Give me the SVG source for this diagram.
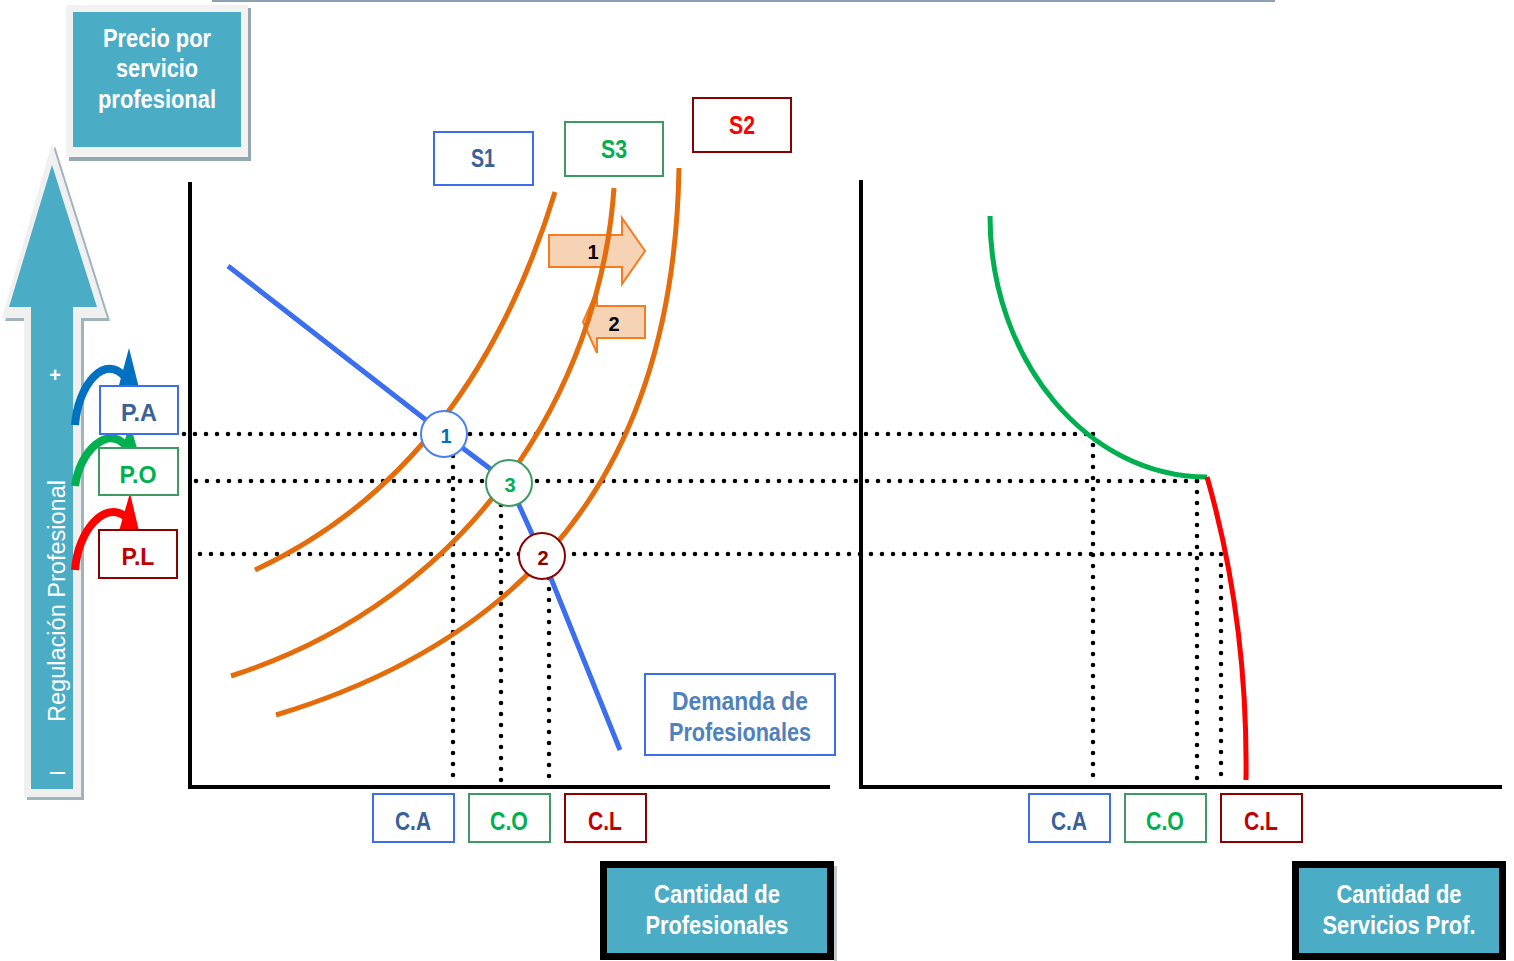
<svg xmlns="http://www.w3.org/2000/svg" width="1514" height="961" viewBox="0 0 1514 961">
<style>
.t{font-family:"Liberation Sans",Arial,sans-serif;font-weight:bold;text-anchor:middle}
.w{fill:#ffffff}
.bl{fill:#3a6199}
.gr{fill:#00b050}
.rd{fill:#c00000}
.bx{fill:#ffffff;stroke-width:2}
.sb{stroke:#3c6df0}
.sg{stroke:#3d9a62}
.sr{stroke:#8b0000}
.sup{fill:none;stroke:#e46c0a;stroke-width:5}
.dot{fill:none;stroke:#000;stroke-width:4.6;stroke-linecap:round;stroke-dasharray:0 11}
.ax{fill:none;stroke:#000;stroke-width:4}
.blk{fill:#4bacc6;stroke:#000;stroke-width:7}
.sh{fill:#f7d3b5;stroke:#f57c1f;stroke-width:2}
</style>

<line x1="212" y1="1" x2="1275" y2="1" stroke="#8fa0b5" stroke-width="2"/>

<g id="title">
<rect x="69" y="8" width="182" height="153" fill="#94a8b0"/>
<rect x="66" y="5" width="182" height="152" fill="#f2f2f2"/>
<rect x="73" y="12" width="168" height="135" fill="#4bacc6"/>
<text class="t w" x="157" y="47" font-size="26" textLength="108" lengthAdjust="spacingAndGlyphs">Precio por</text>
<text class="t w" x="157" y="77" font-size="26" textLength="82" lengthAdjust="spacingAndGlyphs">servicio</text>
<text class="t w" x="157" y="108" font-size="26" textLength="118" lengthAdjust="spacingAndGlyphs">profesional</text>
</g>

<g id="regulation-arrow">
<polygon points="55,146 110,321 84,321 84,800 27,800 27,321 5,321" fill="#a0b4bc"/>
<polygon points="52,143 107,318 81,318 81,797 24,797 24,318 2,318" fill="#f0f0f0"/>
<polygon points="52,165 97,307 73,307 73,789 31,789 31,307 9,307" fill="#4bacc6"/>
<text class="w" font-family="Liberation Sans,Arial,sans-serif" font-size="23" text-anchor="middle" transform="translate(65,601) rotate(-90)" textLength="242" lengthAdjust="spacingAndGlyphs">Regulación Profesional</text>
<text class="w" font-family="Liberation Sans,Arial,sans-serif" font-size="20" font-weight="bold" text-anchor="middle" x="55" y="382">+</text>
<text class="w" font-family="Liberation Sans,Arial,sans-serif" font-size="22" text-anchor="middle" transform="translate(65,773) rotate(-90)">I</text>
</g>

<g id="curved-arrows">
<path d="M75,425 C78,385 105,352 126,378" fill="none" stroke="#0070c0" stroke-width="8"/>
<polygon points="129,348 139,388 115,400" fill="#0070c0"/>
<path d="M75,486 C80,450 108,425 126,446" fill="none" stroke="#00b050" stroke-width="8"/>
<polygon points="130,424 139,455 116,467" fill="#00b050"/>
<path d="M75,570 C78,530 105,500 126,517" fill="none" stroke="#ff0000" stroke-width="8"/>
<polygon points="130,493 139,531 117,538" fill="#ff0000"/>
</g>

<g id="P.A"><rect class="bx sb" x="100" y="386" width="78" height="48"/><text class="t bl" x="139" y="421" font-size="24" textLength="36" lengthAdjust="spacingAndGlyphs">P.A</text></g>
<g id="P.O"><rect class="bx sg" x="99" y="448" width="79" height="47"/><text class="t gr" x="138" y="483" font-size="24" textLength="37" lengthAdjust="spacingAndGlyphs">P.O</text></g>
<g id="P.L"><rect class="bx sr" x="99" y="530" width="78" height="48"/><text class="t rd" x="138" y="565" font-size="24" textLength="33" lengthAdjust="spacingAndGlyphs">P.L</text></g>

<g id="axes">
<path class="ax" d="M190,182 V787 H830"/>
<path class="ax" d="M861,180 V787 H1502"/>
</g>

<g id="shift-arrows">
<polygon class="sh" points="549,235 622,235 622,218 645,251 622,284 622,267 549,267"/>
<text class="t" x="593" y="259" font-size="20" fill="#000">1</text>
<polygon class="sh" points="645,306 645,338 597,338 597,353 583,322 597,290 597,306"/>
<text class="t" x="614" y="331" font-size="20" fill="#000">2</text>
</g>

<g id="connectors">
<path class="dot" d="M184,434 H1093"/>
<path class="dot" d="M196,481 H1200"/>
<path class="dot" d="M200,554 H1222"/>
<path class="dot" d="M453,456 V784"/>
<path class="dot" d="M501,505 V784"/>
<path class="dot" d="M549,578 V784"/>
<path class="dot" d="M1093,434 V784"/>
<path class="dot" d="M1197,481 V784"/>
<path class="dot" d="M1221,554 V784"/>
<path class="sup" d="M555,192 Q470,470 255,570"/>
<path class="sup" d="M614,188 C600,390 470,600 231,676"/>
<path class="sup" d="M679,168 C675,400 590,620 276,715"/>
<polyline points="228,266 444,434 509,483 542,556 620,750" fill="none" stroke="#3b6ff0" stroke-width="5"/>
<path d="M990,216 C990,360 1087,477 1207,477" fill="none" stroke="#00b050" stroke-width="5"/>
<path d="M1207,477 Q1248,620 1246,780" fill="none" stroke="#ff0000" stroke-width="5"/>
</g>

<g id="eq1"><circle cx="444" cy="434" r="23" fill="#fff" stroke="#4a7ef5" stroke-width="2"/><text class="t" x="446" y="443" font-size="20" fill="#0070c0">1</text></g>
<g id="eq3"><circle cx="509" cy="483" r="23" fill="#fff" stroke="#3d9a62" stroke-width="2"/><text class="t" x="510" y="492" font-size="20" fill="#00b050">3</text></g>
<g id="eq2"><circle cx="542" cy="556" r="23" fill="#fff" stroke="#8b0000" stroke-width="2"/><text class="t" x="543" y="565" font-size="20" fill="#8b0000">2</text></g>

<g id="S1"><rect class="bx sb" x="434" y="132" width="99" height="53"/><text class="t bl" x="483" y="167" font-size="26" textLength="24" lengthAdjust="spacingAndGlyphs">S1</text></g>
<g id="S3"><rect class="bx sg" x="565" y="122" width="98" height="54"/><text class="t gr" x="614" y="158" font-size="26" textLength="26" lengthAdjust="spacingAndGlyphs">S3</text></g>
<g id="S2"><rect class="bx sr" x="693" y="98" width="98" height="54"/><text class="t" x="742" y="134" font-size="26" fill="#ff0000" textLength="26" lengthAdjust="spacingAndGlyphs">S2</text></g>

<g id="demanda"><rect class="bx sb" x="645" y="674" width="190" height="81"/>
<text class="t" x="740" y="710" font-size="26" fill="#4f81bd" textLength="136" lengthAdjust="spacingAndGlyphs">Demanda  de</text>
<text class="t" x="740" y="741" font-size="26" fill="#4f81bd" textLength="142" lengthAdjust="spacingAndGlyphs">Profesionales</text></g>

<g id="CA1"><rect class="bx sb" x="373" y="794" width="81" height="48"/><text class="t bl" x="413" y="830" font-size="25" textLength="36" lengthAdjust="spacingAndGlyphs">C.A</text></g>
<g id="CO1"><rect class="bx sg" x="469" y="794" width="81" height="48"/><text class="t gr" x="509" y="830" font-size="25" textLength="38" lengthAdjust="spacingAndGlyphs">C.O</text></g>
<g id="CL1"><rect class="bx sr" x="565" y="794" width="81" height="48"/><text class="t rd" x="605" y="830" font-size="25" textLength="34" lengthAdjust="spacingAndGlyphs">C.L</text></g>
<g id="CA2"><rect class="bx sb" x="1029" y="794" width="81" height="48"/><text class="t bl" x="1069" y="830" font-size="25" textLength="36" lengthAdjust="spacingAndGlyphs">C.A</text></g>
<g id="CO2"><rect class="bx sg" x="1125" y="794" width="81" height="48"/><text class="t gr" x="1165" y="830" font-size="25" textLength="38" lengthAdjust="spacingAndGlyphs">C.O</text></g>
<g id="CL2"><rect class="bx sr" x="1221" y="794" width="81" height="48"/><text class="t rd" x="1261" y="830" font-size="25" textLength="34" lengthAdjust="spacingAndGlyphs">C.L</text></g>

<g id="qty-prof">
<rect x="834" y="866" width="3" height="95" fill="#c0c8cc"/>
<rect class="blk" x="603.5" y="864.5" width="227" height="92"/>
<text class="t w" x="717" y="903" font-size="26" textLength="126" lengthAdjust="spacingAndGlyphs">Cantidad de</text>
<text class="t w" x="717" y="934" font-size="26" textLength="143" lengthAdjust="spacingAndGlyphs">Profesionales</text>
</g>
<g id="qty-serv">
<rect class="blk" x="1295.5" y="864.5" width="207" height="92"/>
<text class="t w" x="1399" y="903" font-size="26" textLength="125" lengthAdjust="spacingAndGlyphs">Cantidad de</text>
<text class="t w" x="1399" y="934" font-size="26" textLength="153" lengthAdjust="spacingAndGlyphs">Servicios Prof.</text>
</g>
</svg>
